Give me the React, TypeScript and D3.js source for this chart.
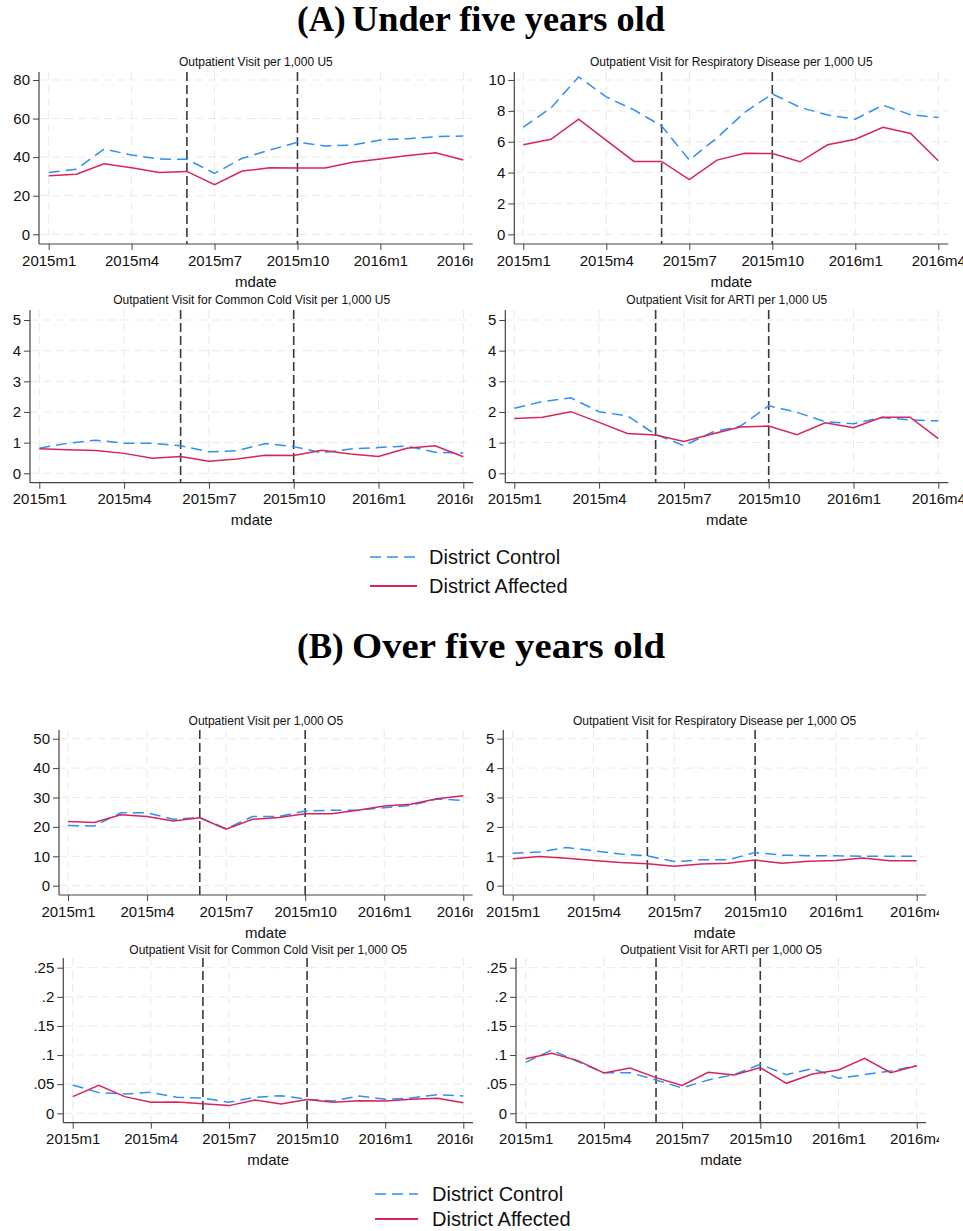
import React, { useRef, useEffect } from 'react';
import * as d3 from 'd3';

const FONT = '"Liberation Sans", Arial, sans-serif';
const SERIF = '"Liberation Serif", "Times New Roman", serif';
const CONTROL_COLOR = '#2f8ff5';
const AFFECTED_COLOR = '#d6245c';
const AXIS_COLOR = '#444';

const months = [
  '2015m1', '2015m2', '2015m3', '2015m4', '2015m5', '2015m6', '2015m7', '2015m8',
  '2015m9', '2015m10', '2015m11', '2015m12', '2016m1', '2016m2', '2016m3', '2016m4'
];
const xTickLabels = ['2015m1', '2015m4', '2015m7', '2015m10', '2016m1', '2016m4'];
const eventMonths = ['2015m6', '2015m10'];
const seriesNames = ['District Control', 'District Affected'];

// under five
const u5VisitControl = [32.1, 33.7, 44.2, 41.1, 39, 38.9, 31.6, 39.4, 43.7, 47.7, 45.8, 46.3, 48.9, 49.6, 50.6, 51];
const u5VisitAffected = [30.4, 31.1, 36.6, 34.5, 32, 32.6, 25.7, 32.8, 34.5, 34.4, 34.4, 37.3, 39, 40.8, 42.3, 38.5];
const u5RespControl = [6.95, 8.19, 10.2, 8.9, 8.06, 7.02, 4.81, 6.25, 7.9, 9.1, 8.23, 7.73, 7.46, 8.37, 7.75, 7.57];
const u5RespAffected = [5.8, 6.16, 7.46, 6.09, 4.72, 4.72, 3.55, 4.81, 5.25, 5.23, 4.7, 5.8, 6.16, 6.93, 6.53, 4.77];
const u5ColdControl = [0.82, 0.98, 1.08, 0.98, 0.98, 0.9, 0.7, 0.74, 0.97, 0.87, 0.67, 0.79, 0.84, 0.89, 0.69, 0.66];
const u5ColdAffected = [0.8, 0.77, 0.74, 0.65, 0.49, 0.55, 0.39, 0.47, 0.59, 0.58, 0.75, 0.63, 0.55, 0.82, 0.9, 0.54];
const u5ArtiControl = [2.12, 2.34, 2.46, 2.01, 1.87, 1.27, 0.9, 1.34, 1.54, 2.2, 1.99, 1.68, 1.62, 1.82, 1.74, 1.71];
const u5ArtiAffected = [1.79, 1.83, 2.01, 1.66, 1.3, 1.25, 1.04, 1.28, 1.51, 1.54, 1.26, 1.65, 1.49, 1.83, 1.83, 1.13];

// over five
const o5VisitControl = [20.5, 20.3, 24.8, 24.8, 22.6, 23.2, 19.4, 23.5, 23.5, 25.4, 25.7, 25.7, 26.5, 27.3, 29.5, 29];
const o5VisitAffected = [21.8, 21.5, 24.1, 23.5, 22, 23.1, 19.2, 22.6, 23.2, 24.5, 24.5, 25.7, 27.1, 27.7, 29.6, 30.6];
const o5RespControl = [1.1, 1.15, 1.3, 1.19, 1.08, 1.01, 0.82, 0.88, 0.88, 1.13, 1.04, 1.02, 1.02, 1.0, 1.0, 1.0];
const o5RespAffected = [0.92, 0.99, 0.93, 0.86, 0.79, 0.75, 0.66, 0.74, 0.76, 0.87, 0.76, 0.83, 0.86, 0.94, 0.85, 0.85];
const o5ColdControl = [0.0486, 0.0355, 0.0332, 0.036, 0.0275, 0.0263, 0.0189, 0.0275, 0.0303, 0.024, 0.0212, 0.0297, 0.024, 0.0263, 0.032, 0.0297];
const o5ColdAffected = [0.0286, 0.048, 0.0286, 0.0189, 0.0195, 0.0166, 0.0132, 0.0229, 0.016, 0.0235, 0.0189, 0.0217, 0.0212, 0.024, 0.0257, 0.0183];
const o5ArtiControl = [0.0875, 0.1087, 0.0887, 0.0698, 0.0698, 0.0572, 0.0435, 0.0572, 0.0664, 0.0841, 0.0664, 0.0767, 0.0601, 0.0664, 0.0727, 0.0818];
const o5ArtiAffected = [0.0938, 0.103, 0.0904, 0.0692, 0.0778, 0.0612, 0.048, 0.0704, 0.0658, 0.0784, 0.0515, 0.0675, 0.0744, 0.0944, 0.0698, 0.0818];

const ticksVisitU5 = [0, 20, 40, 60, 80];
const ticksRespU5 = [0, 2, 4, 6, 8, 10];
const ticksFive = [0, 1, 2, 3, 4, 5];
const ticksVisitO5 = [0, 10, 20, 30, 40, 50];
const ticksSmall = [0, 0.05, 0.1, 0.15, 0.2, 0.25];

const stataFmt = (v: number) => (v === 0 ? '0' : String(v).replace(/^0\./, '.'));

// panel geometry: axis line x, first/last month x, right end, clip for tick labels, vertical rows
const rowA1 = { top: 72, yTop: 80, yZero: 234.3, axisY: 244, titleY: 62 };
const rowA2 = { top: 310, yTop: 320, yZero: 473.3, axisY: 482.7, titleY: 300 };
const rowB1 = { top: 730, yTop: 738.7, yZero: 885.7, axisY: 895, titleY: 720.7 };
const rowB2 = { top: 958, yTop: 967.7, yZero: 1113.3, axisY: 1122.7, titleY: 949.3 };

const panels = [
  { title: 'Outpatient Visit per 1,000 U5', control: u5VisitControl, affected: u5VisitAffected, ticks: ticksVisitU5,
    axisX: 39, x0: 48.7, x1: 463.3, right: 472.7, clip: 473, ...rowA1 },
  { title: 'Outpatient Visit for Respiratory Disease per 1,000 U5', control: u5RespControl, affected: u5RespAffected, ticks: ticksRespU5,
    axisX: 514.3, x0: 523.3, x1: 938.3, right: 948.3, clip: 963, ...rowA1 },
  { title: 'Outpatient Visit for Common Cold Visit per 1,000 U5', control: u5ColdControl, affected: u5ColdAffected, ticks: ticksFive,
    axisX: 30, x0: 39.3, x1: 463.3, right: 473.3, clip: 473, ...rowA2 },
  { title: 'Outpatient Visit for ARTI per 1,000 U5', control: u5ArtiControl, affected: u5ArtiAffected, ticks: ticksFive,
    axisX: 505.3, x0: 514.3, x1: 938.3, right: 948.3, clip: 963, ...rowA2 },
  { title: 'Outpatient Visit per 1,000 O5', control: o5VisitControl, affected: o5VisitAffected, ticks: ticksVisitO5,
    axisX: 59, x0: 68, x1: 463.3, right: 472.7, clip: 473, ...rowB1 },
  { title: 'Outpatient Visit for Respiratory Disease per 1,000 O5', control: o5RespControl, affected: o5RespAffected, ticks: ticksFive,
    axisX: 503.3, x0: 512.7, x1: 916.7, right: 926, clip: 939, ...rowB1 },
  { title: 'Outpatient Visit for Common Cold Visit per 1,000 O5', control: o5ColdControl, affected: o5ColdAffected, ticks: ticksSmall,
    axisX: 63.3, x0: 72.7, x1: 463.3, right: 473, clip: 473, ...rowB2 },
  { title: 'Outpatient Visit for ARTI per 1,000 O5', control: o5ArtiControl, affected: o5ArtiAffected, ticks: ticksSmall,
    axisX: 516, x0: 525.7, x1: 916.7, right: 926, clip: 939, ...rowB2 },
];

const Panel = ({ p, id }: { p: any; id: number }) => {
  const xRef = useRef<SVGGElement>(null);
  const yRef = useRef<SVGGElement>(null);
  const x = d3.scalePoint<string>().domain(months).range([p.x0, p.x1]);
  const y = d3.scaleLinear().domain([0, p.ticks[p.ticks.length - 1]]).range([p.yZero, p.yTop]);

  useEffect(() => {
    const gx = d3.select(xRef.current!)
      .call(d3.axisBottom(x).tickValues(xTickLabels).tickSize(6).tickSizeOuter(0).tickPadding(5));
    gx.select('.domain').remove();
    gx.attr('font-size', 15).attr('font-family', FONT).style('color', AXIS_COLOR);
    gx.selectAll('text').attr('fill', '#111');

    const gy = d3.select(yRef.current!)
      .call(d3.axisLeft(y).tickValues(p.ticks).tickFormat((d: any) => stataFmt(+d)).tickSize(6).tickSizeOuter(0).tickPadding(3));
    gy.select('.domain').remove();
    gy.attr('font-size', 15).attr('font-family', FONT).style('color', AXIS_COLOR);
    gy.selectAll('text').attr('fill', '#111');
  }, []);

  const line = (vals: number[]) =>
    d3.line<number>().x((_, i) => x(months[i])!).y(v => y(v))(vals)!;

  return (
    <g>
      <clipPath id={`clip${id}`}>
        <rect x={0} y={p.axisY} width={p.clip} height={40} />
      </clipPath>
      <text x={(p.axisX + p.right) / 2} y={p.titleY} dy="0.35em" textAnchor="middle"
        fontFamily={FONT} fontSize={12} fill="#111">{p.title}</text>
      {p.ticks.map((t: number) => (
        <line key={'h' + t} x1={p.axisX} x2={p.right} y1={y(t)} y2={y(t)}
          stroke="#e9e9e9" strokeWidth={1} strokeDasharray="8,5" />
      ))}
      {xTickLabels.map(m => (
        <line key={'v' + m} x1={x(m)} x2={x(m)} y1={p.top} y2={p.axisY}
          stroke="#e9e9e9" strokeWidth={1} strokeDasharray="8,5" />
      ))}
      {eventMonths.map(m => (
        <line key={'e' + m} x1={x(m)} x2={x(m)} y1={p.top} y2={p.axisY}
          stroke="#3a3a3a" strokeWidth={1.6} strokeDasharray="9,4" />
      ))}
      <path d={line(p.control)} fill="none" stroke={CONTROL_COLOR} strokeWidth={1.5} strokeDasharray="11,6" />
      <path d={line(p.affected)} fill="none" stroke={AFFECTED_COLOR} strokeWidth={1.5} />
      <line x1={p.axisX} x2={p.axisX} y1={p.top} y2={p.axisY} stroke={AXIS_COLOR} strokeWidth={1.2} />
      <line x1={p.axisX} x2={p.right} y1={p.axisY} y2={p.axisY} stroke={AXIS_COLOR} strokeWidth={1.2} />
      <g ref={yRef} transform={`translate(${p.axisX},0)`} />
      <g clipPath={`url(#clip${id})`}>
        <g ref={xRef} transform={`translate(0,${p.axisY})`} />
      </g>
      <text x={(p.axisX + p.right) / 2} y={p.axisY + 37.5} dy="0.35em" textAnchor="middle"
        fontFamily={FONT} fontSize={15} fill="#111">mdate</text>
    </g>
  );
};

const Legend = ({ x1, x2, tx, y1, y2 }: { x1: number; x2: number; tx: number; y1: number; y2: number }) => (
  <g fontFamily={FONT} fontSize={20} fill="#111">
    <line x1={x1} x2={x2} y1={y1} y2={y1} stroke={CONTROL_COLOR} strokeWidth={1.5} strokeDasharray="11,6" />
    <text x={tx} y={y1} dy="0.35em">{seriesNames[0]}</text>
    <line x1={x1} x2={x2} y1={y2} y2={y2} stroke={AFFECTED_COLOR} strokeWidth={1.8} />
    <text x={tx} y={y2} dy="0.35em">{seriesNames[1]}</text>
  </g>
);

const SectionTitle = ({ label, text, y }: { label: string; text: string; y: number }) => (
  <g fontFamily={SERIF} fontWeight="bold" fontSize={35} fill="#000">
    <text x={297} y={y}>{label}</text>
    <text x={352} y={y} textLength={313} lengthAdjust="spacingAndGlyphs">{text}</text>
  </g>
);

export default function App() {
  return (
    <svg width={963} height={1231} style={{ position: 'absolute', left: 0, top: 0, background: '#fff' }}>
      <rect width={963} height={1231} fill="#fff" />
      <SectionTitle label="(A)" text="Under five years old" y={31} />
      <SectionTitle label="(B)" text="Over five years old" y={658} />
      {panels.map((p, i) => <Panel key={i} p={p} id={i} />)}
      <Legend x1={370} x2={417} tx={429} y1={557} y2={586} />
      <Legend x1={375} x2={418} tx={432} y1={1194} y2={1219} />
    </svg>
  );
}
